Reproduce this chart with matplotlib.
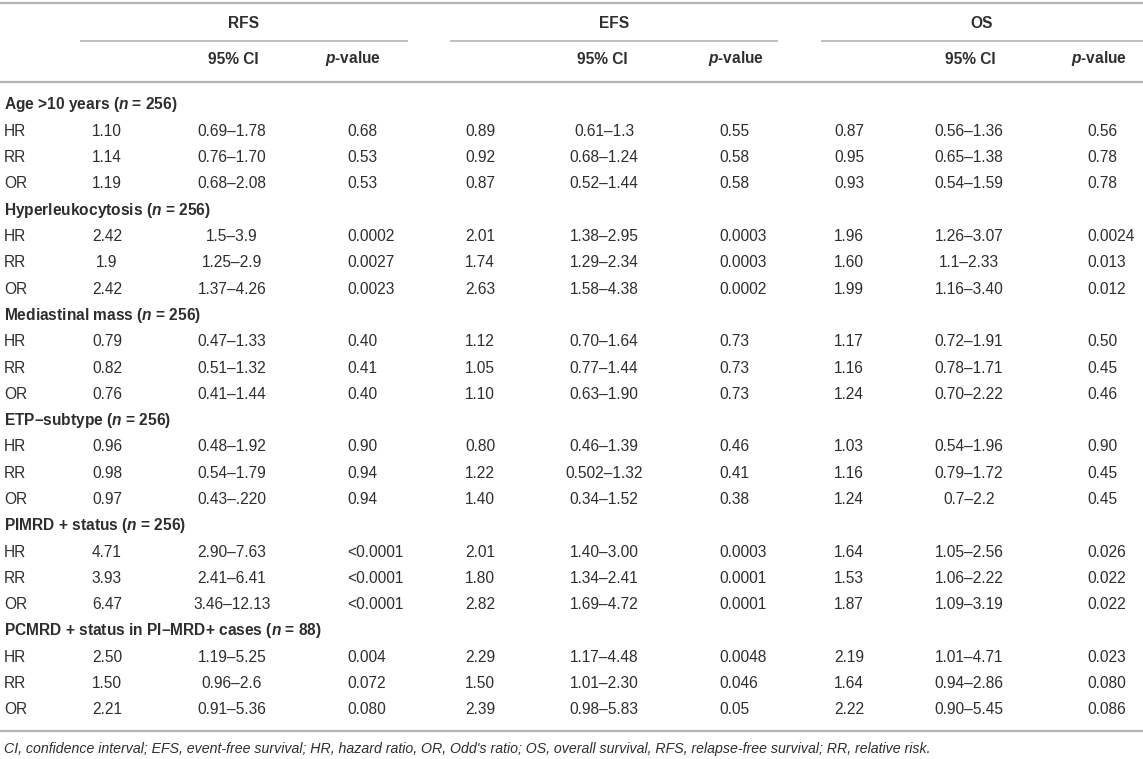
import matplotlib
matplotlib.use("Agg")
import matplotlib.pyplot as plt

plt.rcParams['font.family'] = ['Liberation Sans', 'DejaVu Sans']
plt.rcParams['mathtext.fontset'] = 'custom'
plt.rcParams['mathtext.rm'] = 'Liberation Sans:bold'
plt.rcParams['mathtext.it'] = 'Liberation Sans:italic:bold'
plt.rcParams['mathtext.bf'] = 'Liberation Sans:bold'

# ---------------------------------------------------------------
# TABLE DATA
# ---------------------------------------------------------------
endpoints = ["RFS", "EFS", "OS"]
measures = ["HR", "RR", "OR"]
groups = ["Age >10 years", "Hyperleukocytosis", "Mediastinal mass",
          "ETP\u2013subtype", "PIMRD + status", "PCMRD + status in PI\u2013MRD+ cases"]
group_n = [256, 256, 256, 256, 256, 88]

rfs_est = [["1.10", "1.14", "1.19"], ["2.42", "1.9", "2.42"], ["0.79", "0.82", "0.76"],
           ["0.96", "0.98", "0.97"], ["4.71", "3.93", "6.47"], ["2.50", "1.50", "2.21"]]
rfs_ci = [["0.69\u20131.78", "0.76\u20131.70", "0.68\u20132.08"],
          ["1.5\u20133.9", "1.25\u20132.9", "1.37\u20134.26"],
          ["0.47\u20131.33", "0.51\u20131.32", "0.41\u20131.44"],
          ["0.48\u20131.92", "0.54\u20131.79", "0.43\u2013.220"],
          ["2.90\u20137.63", "2.41\u20136.41", "3.46\u201312.13"],
          ["1.19\u20135.25", "0.96\u20132.6", "0.91\u20135.36"]]
rfs_p = [["0.68", "0.53", "0.53"], ["0.0002", "0.0027", "0.0023"], ["0.40", "0.41", "0.40"],
         ["0.90", "0.94", "0.94"], ["<0.0001", "<0.0001", "<0.0001"], ["0.004", "0.072", "0.080"]]

efs_est = [["0.89", "0.92", "0.87"], ["2.01", "1.74", "2.63"], ["1.12", "1.05", "1.10"],
           ["0.80", "1.22", "1.40"], ["2.01", "1.80", "2.82"], ["2.29", "1.50", "2.39"]]
efs_ci = [["0.61\u20131.3", "0.68\u20131.24", "0.52\u20131.44"],
          ["1.38\u20132.95", "1.29\u20132.34", "1.58\u20134.38"],
          ["0.70\u20131.64", "0.77\u20131.44", "0.63\u20131.90"],
          ["0.46\u20131.39", "0.502\u20131.32", "0.34\u20131.52"],
          ["1.40\u20133.00", "1.34\u20132.41", "1.69\u20134.72"],
          ["1.17\u20134.48", "1.01\u20132.30", "0.98\u20135.83"]]
efs_p = [["0.55", "0.58", "0.58"], ["0.0003", "0.0003", "0.0002"], ["0.73", "0.73", "0.73"],
         ["0.46", "0.41", "0.38"], ["0.0003", "0.0001", "0.0001"], ["0.0048", "0.046", "0.05"]]

os_est = [["0.87", "0.95", "0.93"], ["1.96", "1.60", "1.99"], ["1.17", "1.16", "1.24"],
          ["1.03", "1.16", "1.24"], ["1.64", "1.53", "1.87"], ["2.19", "1.64", "2.22"]]
os_ci = [["0.56\u20131.36", "0.65\u20131.38", "0.54\u20131.59"],
         ["1.26\u20133.07", "1.1\u20132.33", "1.16\u20133.40"],
         ["0.72\u20131.91", "0.78\u20131.71", "0.70\u20132.22"],
         ["0.54\u20131.96", "0.79\u20131.72", "0.7\u20132.2"],
         ["1.05\u20132.56", "1.06\u20132.22", "1.09\u20133.19"],
         ["1.01\u20134.71", "0.94\u20132.86", "0.90\u20135.45"]]
os_p = [["0.56", "0.78", "0.78"], ["0.0024", "0.013", "0.012"], ["0.50", "0.45", "0.46"],
        ["0.90", "0.45", "0.45"], ["0.026", "0.022", "0.022"], ["0.023", "0.080", "0.086"]]

footnote = ("CI, confidence interval; EFS, event-free survival; HR, hazard ratio, OR, Odd's ratio; "
            "OS, overall survival, RFS, relapse-free survival; RR, relative risk.")

# ---------------------------------------------------------------
# LAYOUT (pixel coordinates, y grows downwards)
# ---------------------------------------------------------------
W, H = 1143, 759
fig = plt.figure(figsize=(W / 100, H / 100), dpi=100)
ax = fig.add_axes([0, 0, 1, 1])
ax.set_xlim(0, W)
ax.set_ylim(H, 0)
ax.axis("off")

line_col = "#b4b4b4"
txt_col = "#2e2e2e"
fs = 11.2

est_x = [107, 480, 849]
ci_x = [232, 604, 969]
p_x = [347, 719, 1087]
ci_head_x = [233, 602, 970]
p_head_x = [325, 708, 1071]
span = [(80, 408), (450, 778), (821, 1143)]

# rules
ax.plot([0, W], [3, 3], color=line_col, lw=1.6, solid_capstyle="butt")
for x0, x1 in span:
    ax.plot([x0, x1], [41, 41], color=line_col, lw=1.2, solid_capstyle="butt")
ax.plot([0, W], [82, 82], color=line_col, lw=1.6, solid_capstyle="butt")
ax.plot([0, W], [731, 731], color=line_col, lw=1.6, solid_capstyle="butt")

# header rows
for k, name in enumerate(endpoints):
    ax.text(sum(span[k]) / 2, 23, name, ha="center", va="center", fontsize=fs,
            fontweight="bold", color=txt_col)
    ax.text(ci_head_x[k], 59, "95% CI", ha="center", va="center", fontsize=fs,
            fontweight="bold", color=txt_col)
    ax.text(p_head_x[k], 59, r"$p$-value", ha="left", va="center", fontsize=fs,
            fontweight="bold", color=txt_col)

# body
y = 105
step = 26.3
cols = [(rfs_est, rfs_ci, rfs_p), (efs_est, efs_ci, efs_p), (os_est, os_ci, os_p)]
for g, name in enumerate(groups):
    ax.text(4, y, name + r" ($n$ = " + str(group_n[g]) + ")", ha="left", va="center",
            fontsize=fs, fontweight="bold", color=txt_col)
    y += step
    for m, meas in enumerate(measures):
        ax.text(4, y, meas, ha="left", va="center", fontsize=fs, color=txt_col)
        for k, (est, ci, p) in enumerate(cols):
            ax.text(est_x[k], y, est[g][m], ha="center", va="center", fontsize=fs, color=txt_col)
            ax.text(ci_x[k], y, ci[g][m], ha="center", va="center", fontsize=fs, color=txt_col)
            ax.text(p_x[k], y, p[g][m], ha="left", va="center", fontsize=fs, color=txt_col)
        y += step

ax.text(4, 749, footnote, ha="left", va="center", fontsize=10.2, style="italic", color=txt_col)

fig.savefig("out.png", dpi=100)
